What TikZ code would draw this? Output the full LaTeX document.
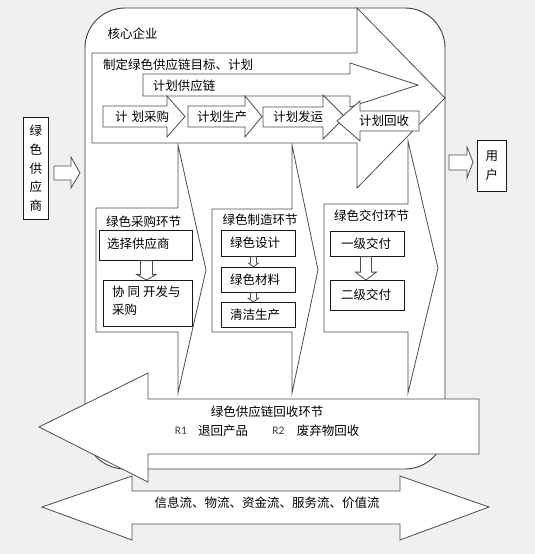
\documentclass[tikz,border=0pt]{standalone}
\usepackage{fontspec}
\newfontfamily\cjk{Noto Sans CJK SC}
\newfontfamily\latf{Carlito}
\usetikzlibrary{calc}
\newcommand\dnarr[6]{% upper, lower, xshift, half body, half head, fraction
  \coordinate (s) at ([xshift=#3]#1.south);
  \coordinate (e) at (s |- #2.north);
  \coordinate (m) at ($(s)!#6!(e)$);
  \draw[arr] ([xshift=-#4]s) -- ([xshift=-#4]m) -- ([xshift=-#5]m) -- (e) -- ([xshift=#5]m) -- ([xshift=#4]m) -- ([xshift=#4]s) -- cycle;}
\begin{document}
\begin{tikzpicture}[x=1pt,y=-1pt,
  arr/.style={draw=black!70, fill=white, line width=0.8pt, line join=miter},
  core/.style={draw=black!75, fill=white, line width=0.9pt, rounded corners=40pt},
  box/.style={draw=black!90, fill=white, line width=0.8pt, inner sep=0pt, anchor=north west},
  txt/.style={font=\cjk\fontsize{12.5}{15}\selectfont, inner sep=0pt, text=black},
  vtxt/.style={font=\cjk\fontsize{12.5}{18.7}\selectfont, inner sep=0pt, align=center},
  ltxt/.style={font=\cjk\fontsize{12.5}{18}\selectfont, inner sep=0pt, align=left, anchor=north west},
  rtxt/.style={font=\latf\fontsize{11.5}{13}\selectfont, inner sep=0pt, text=black!75}]
\useasboundingbox (0,0) rectangle (535,554);
\fill[black!6] (0,0) rectangle (535,554);

% core enterprise
\draw[core] (85,8) rectangle (445,469);
\node[txt] (coreT) at (132.5,34) {核心企业};

% lower chevrons
\draw[arr] (96,208) -- (178,208) -- (178,145) -- (206,270) -- (178,393) -- (178,332) -- (96,332) -- cycle;
\draw[arr] (212,209) -- (292,209) -- (292,145) -- (318,270) -- (292,393) -- (292,332) -- (212,332) -- cycle;
\draw[arr] (324,204) -- (408,204) -- (408,141) -- (438,268) -- (408,393) -- (408,332) -- (324,332) -- cycle;

% big arrow
\draw[arr] (92,53) -- (357,53) -- (357,8) -- (445,98) -- (357,188) -- (357,143) -- (92,143) -- cycle;
\node[txt] (goal) at (178,65) {制定绿色供应链目标、计划};
% plan supply chain arrow
\draw[arr] (143,74) -- (350,74) -- (350,63) -- (418,85) -- (350,107) -- (350,96) -- (143,96) -- cycle;
\node[txt] (plansc) at (184,86) {计划供应链};

% row arrows
\draw[arr] (103,106) -- (167,106) -- (167,96) -- (185,116.5) -- (167,137) -- (167,127) -- (103,127) -- cycle;
\node[txt] (p1) at (142,117) {计\hspace{4pt}划采购};
\draw[arr] (188,106) -- (245,106) -- (245,96) -- (262,116.5) -- (245,137) -- (245,127) -- (188,127) -- cycle;
\node[txt] (p2) at (222,117) {计划生产};
\draw[arr] (263,107) -- (323,107) -- (323,95) -- (345,117) -- (323,139) -- (323,127) -- (263,127) -- cycle;
\node[txt] (p3) at (298,117) {计划发运};
\draw[arr] (419,111) -- (360,111) -- (360,101) -- (337,121) -- (360,141) -- (360,131) -- (419,131) -- cycle;
\node[txt] (p4) at (384,121) {计划回收};

% purchasing
\node[txt] (pur) at (143.5,222) {绿色采购环节};
\node[box, minimum width=93pt, minimum height=30pt] (b1) at (99,230) {};
\node[txt, anchor=west] (b1t) at (107,244) {选择供应商};
\node[box, minimum width=89pt, minimum height=46pt] (b2) at (103,280) {};
\node[ltxt] (b2t) at (112,286) {协\hspace{3pt}同\hspace{3pt}开发与\\采购};
\dnarr{b1}{b2}{0.5pt}{6pt}{9.5pt}{0.72}

% manufacturing
\node[txt] (man) at (260,220) {绿色制造环节};
\node[box, minimum width=74pt, minimum height=26pt] (m1) at (221,230) {};
\node[txt] (m1t) at (255,243) {绿色设计};
\node[box, minimum width=74pt, minimum height=25pt] (m2) at (221,267) {};
\node[txt] (m2t) at (255,280) {绿色材料};
\node[box, minimum width=74pt, minimum height=25pt] (m3) at (221,302) {};
\node[txt] (m3t) at (255,315) {清洁生产};
\dnarr{m1}{m2}{-5pt}{3pt}{5pt}{0.6}
\dnarr{m2}{m3}{-5pt}{3pt}{5pt}{0.6}

% delivery
\node[txt] (del) at (371.5,216) {绿色交付环节};
\node[box, minimum width=74pt, minimum height=25pt] (d1) at (330,231) {};
\node[txt] (d1t) at (366,244) {一级交付};
\node[box, minimum width=74pt, minimum height=30pt] (d2) at (330,280) {};
\node[txt] (d2t) at (366,295) {二级交付};
\dnarr{d1}{d2}{-1.5pt}{5.5pt}{10.5pt}{0.66}

% recycling arrow
\draw[arr] (479,399) -- (148,399) -- (148,373) -- (39,427) -- (148,482) -- (148,454) -- (479,454) -- cycle;
\node[txt] (rec) at (267,412) {绿色供应链回收环节};
\node[rtxt] (r1) at (181,431) {R1};
\node[txt] (r1t) at (223,431) {退回产品};
\node[rtxt] (r2) at (278.5,431) {R2};
\node[txt] (r2t) at (328,431) {废弃物回收};

% double arrow
\draw[arr] (42,507) -- (132,476) -- (132,491) -- (400,491) -- (400,476) -- (489,507) -- (400,540) -- (400,524) -- (132,524) -- (132,540) -- cycle;
\node[txt] (flows) at (267,503) {信息流、物流、资金流、服务流、价值流};

% supplier and user
\node[box, minimum width=25pt, minimum height=102pt] (sup) at (23,117) {};
\node[vtxt] (supt) at (sup.center) {绿\\色\\供\\应\\商};
\draw[arr] (54,166) -- (71,166) -- (71,157) -- (80,173) -- (71,188) -- (71,180) -- (54,180) -- cycle;
\draw[arr] (449,155) -- (467,155) -- (467,147) -- (473,162) -- (467,178) -- (467,170) -- (449,170) -- cycle;
\node[box, minimum width=29pt, minimum height=51pt] (usr) at (477,140) {};
\node[vtxt] (usrt) at (usr.center) {用\\户};
\end{tikzpicture}
\end{document}
